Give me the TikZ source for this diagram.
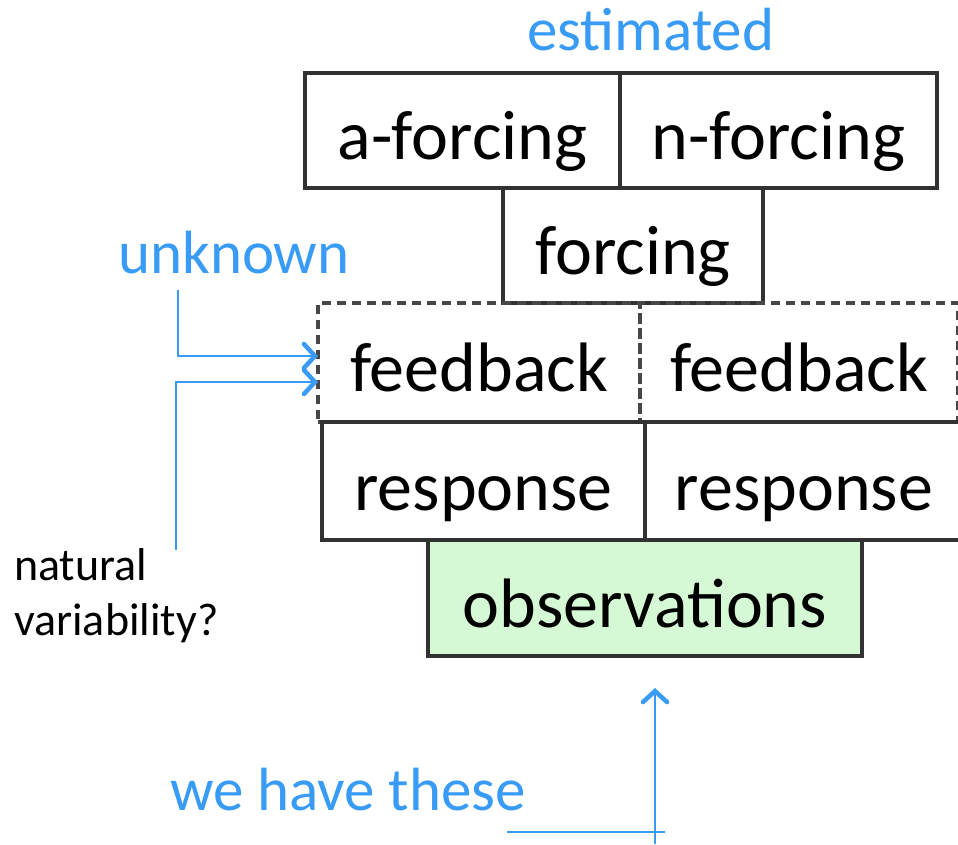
\documentclass[tikz,border=0pt]{standalone}
\usepackage{fontspec}
\setmainfont{Carlito}
\usetikzlibrary{arrows.meta,calc}
\definecolor{hint}{RGB}{56,155,245}
\definecolor{edge}{RGB}{50,50,50}
\definecolor{obsfill}{RGB}{213,249,213}
\tikzset{
  box/.style={draw=edge, line width=3.4pt, rectangle, inner sep=0pt, outer sep=0pt,
    text height=58pt, text depth=0pt,
    font=\fontsize{70}{84}\selectfont, text=black},
  dbox/.style={box, draw=edge!90, dash pattern=on 9pt off 6pt},
  conn/.style={draw=hint, line width=2.2pt, -{Straight Barb[length=11pt,width=24pt,line width=4.5pt,line cap=round]}},
  plain/.style={draw=hint, line width=2.2pt},
  note/.style={text=hint, font=\fontsize{61}{73}\selectfont, inner sep=0pt, anchor=base west},
  side/.style={text=black, font=\fontsize{46}{55}\selectfont, inner sep=0pt, align=left, anchor=base west},
}
\begin{document}
\begin{tikzpicture}[x=1pt,y=-1pt]
\useasboundingbox (0,0) rectangle (958,844);
\begin{scope}
\clip (0,0) rectangle (958,844);
% top row: the two forcing components
\node[box, minimum width=315pt, minimum height=115pt] (af) at (462.5,130.5) {a-forcing};
\node[box, minimum width=317pt, minimum height=115pt] (nf) at (778.5,130.5) {n-forcing};
% combined forcing
\node[box, minimum width=260pt, minimum height=115pt] (fo) at (633,245.5) {forcing};
% feedback row, dashed
\node[dbox, minimum width=322pt, minimum height=119pt] (fbL) at (479,362.5) {feedback};
\node[dbox, minimum width=318pt, minimum height=119pt] (fbR) at (799,362.5) {feedback};
% response row
\node[box, minimum width=323pt, minimum height=118pt] (reL) at (483.5,481) {response};
\node[box, minimum width=318pt, minimum height=118pt] (reR) at (804,481) {response};
% observations
\node[box, fill=obsfill, minimum width=434pt, minimum height=116pt] (obs) at (645,598) {observations};
\end{scope}

% annotations
\node[note] (est) at (527,50) {estimated};
\node[note] (unk) at (118,273) {unknown};
\node[side] (nat) at (14,635) {natural\\variability?};
\node[note] (have) at (170,810) {we have these};

% connectors
\coordinate (u0) at (178,290);
\coordinate (n0) at (176,550);
\draw[conn] (u0) |- ([yshift=6.5pt]fbL.west);
\draw[conn] (n0) |- ([yshift=-19.5pt]fbL.west);

\coordinate (h0) at (655,844);
\coordinate (hl) at (507,832);
\coordinate (hr) at (665,832);
\draw[plain] (hl) -- (hr);
\draw[conn] (h0) -- ([yshift=-32pt]obs.south -| h0);
\end{tikzpicture}
\end{document}
